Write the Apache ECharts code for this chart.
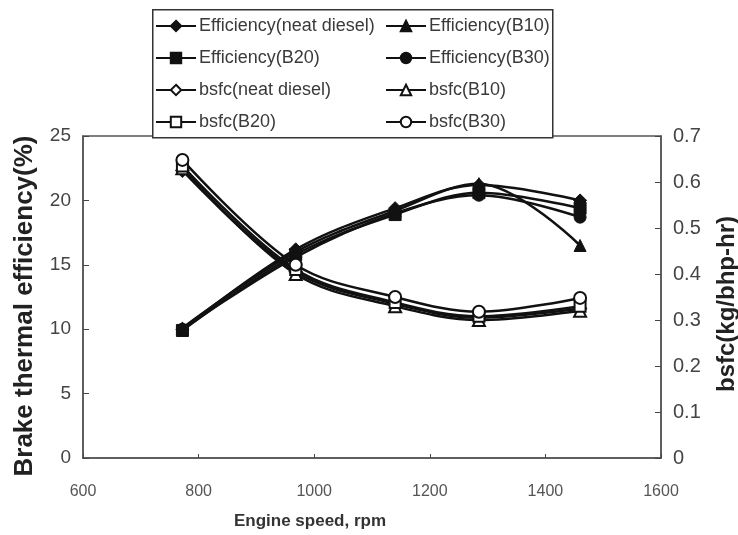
<!DOCTYPE html>
<html>
<head>
<meta charset="utf-8">
<script src="https://cdn.jsdelivr.net/npm/echarts@6/dist/echarts.min.js"></script>
<style>html,body{margin:0;padding:0;background:#fff}#c{width:738px;height:535px}</style>
</head>
<body>
<div id="c"></div>
<script>
// Engine speed (rpm)
const speeds = [772, 968, 1140, 1285, 1460];
// Brake thermal efficiency (%)
const effNeat = [10.0, 16.2, 19.4, 21.2, 20.0];
const effB10  = [10.1, 16.0, 19.2, 21.3, 16.5];
const effB20  = [9.9, 15.8, 18.9, 20.6, 19.4];
const effB30  = [10.0, 15.6, 19.0, 20.4, 18.7];
// bsfc (kg/bhp-hr)
const bsfcNeat = [0.625, 0.405, 0.335, 0.305, 0.325];
const bsfcB10  = [0.630, 0.400, 0.330, 0.300, 0.320];
const bsfcB20  = [0.635, 0.410, 0.338, 0.308, 0.330];
const bsfcB30  = [0.648, 0.420, 0.350, 0.318, 0.348];
// axis ticks [min, max, interval]
const xTicks = [600, 1600, 200];
const yLeftTicks = [0, 25, 5];
const yRightTicks = [0, 0.7, 0.1];

const pairs = ys => speeds.map((x, i) => [x, ys[i]]);
const FONT = 'Liberation Sans, Arial, sans-serif';

function mk(name, ys, symbol, filled, yIdx, size) {
  return {
    name: name, type: 'line', yAxisIndex: yIdx, data: pairs(ys),
    smooth: 0.35, symbol: symbol, symbolSize: size,
    lineStyle: {color: '#111', width: 2.5},
    itemStyle: filled ? {color: '#111', borderColor: '#111', borderWidth: 1}
                      : {color: '#fff', borderColor: '#111', borderWidth: 2},
    z: filled ? 3 : 4
  };
}

const series = [
  mk('Efficiency(neat diesel)', effNeat, 'diamond', true, 0, 13),
  mk('Efficiency(B10)', effB10, 'triangle', true, 0, 12),
  mk('Efficiency(B20)', effB20, 'rect', true, 0, 12),
  mk('Efficiency(B30)', effB30, 'circle', true, 0, 12),
  mk('bsfc(neat diesel)', bsfcNeat, 'diamond', false, 1, 12),
  mk('bsfc(B10)', bsfcB10, 'triangle', false, 1, 12),
  mk('bsfc(B20)', bsfcB20, 'rect', false, 1, 11),
  mk('bsfc(B30)', bsfcB30, 'circle', false, 1, 12)
];

const legCommon = {orient: 'vertical', top: 17, padding: 0, itemWidth: 40, itemHeight: 13, itemGap: 14,
  textStyle: {fontFamily: FONT, fontSize: 18, color: '#3a3a3a', padding: [0, 0, 0, -2]}, selectedMode: false};

const chart = echarts.init(document.getElementById('c'), null, {renderer: 'canvas'});
chart.setOption({
  backgroundColor: '#fff',
  animation: false,
  grid: {left: 83, right: 77, top: 136, bottom: 77, outerBoundsMode: 'none', containLabel: false,
    show: true, borderColor: '#555', borderWidth: 1.5, backgroundColor: 'transparent'},
  graphic: [{type: 'rect', left: 152, top: 9, shape: {width: 400, height: 128},
    style: {fill: '#fff', stroke: '#333', lineWidth: 1.5}, z: 50}],
  legend: [
    Object.assign({left: 155, data: ['Efficiency(neat diesel)', 'Efficiency(B20)', 'bsfc(neat diesel)', 'bsfc(B20)'], z: 60}, legCommon),
    Object.assign({left: 385, data: ['Efficiency(B10)', 'Efficiency(B30)', 'bsfc(B10)', 'bsfc(B30)'], z: 60}, legCommon)
  ],
  xAxis: {
    type: 'value', min: xTicks[0], max: xTicks[1], interval: xTicks[2],
    name: 'Engine speed, rpm', nameLocation: 'middle', nameGap: 55,
    nameTextStyle: {fontFamily: FONT, fontSize: 17, fontWeight: 'bold', color: '#333', padding: [0, 124, 0, 0]},
    axisLine: {lineStyle: {color: '#555', width: 1.5}},
    axisTick: {inside: true, length: 4, lineStyle: {color: '#444'}},
    axisLabel: {fontFamily: FONT, fontSize: 16, color: '#555', margin: 26, formatter: v => String(v)},
    splitLine: {show: false}
  },
  yAxis: [
    {
      type: 'value', min: yLeftTicks[0], max: yLeftTicks[1], interval: yLeftTicks[2], position: 'left',
      name: 'Brake thermal efficiency(%)', nameLocation: 'middle', nameGap: 45, nameRotate: 90,
      nameTextStyle: {fontFamily: FONT, fontSize: 26, fontWeight: 'bold', color: '#222', padding: [0, 18, 0, 0]},
      axisLine: {show: true, lineStyle: {color: '#555', width: 1.5}},
      axisTick: {show: true, inside: true, length: 6, lineStyle: {color: '#444'}},
      axisLabel: {fontFamily: FONT, fontSize: 19, color: '#444', margin: 12},
      splitLine: {show: false}
    },
    {
      type: 'value', min: yRightTicks[0], max: yRightTicks[1], interval: yRightTicks[2], position: 'right',
      name: 'bsfc(kg/bhp-hr)', nameLocation: 'middle', nameGap: 54, nameRotate: 90,
      nameTextStyle: {fontFamily: FONT, fontSize: 24, fontWeight: 'bold', color: '#222', padding: [0, 14, 0, 0]},
      axisLine: {show: true, lineStyle: {color: '#555', width: 1.5}},
      axisTick: {show: true, inside: true, length: 6, lineStyle: {color: '#444'}},
      axisLabel: {fontFamily: FONT, fontSize: 20, color: '#444', margin: 12,
        formatter: v => (Math.round(v * 10) / 10).toString()},
      splitLine: {show: false}
    }
  ],
  series: series
});
</script>
</body>
</html>
